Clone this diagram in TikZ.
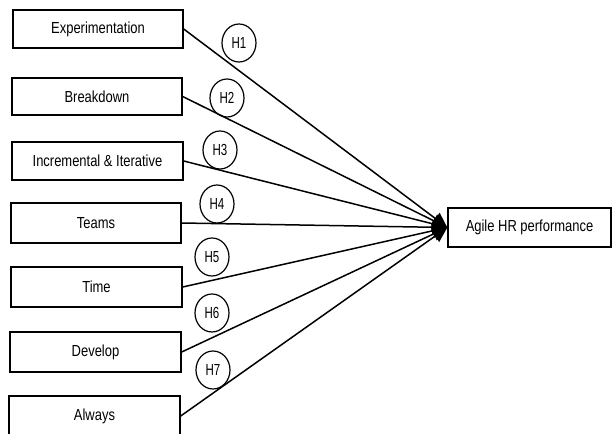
\documentclass[tikz,border=0pt]{standalone}
\usepackage{graphicx}
\usepackage{fontspec}
\setmainfont{Liberation Sans}
\usetikzlibrary{arrows.meta,shapes.geometric}
\newcommand{\nrw}[1]{\scalebox{0.81}[1]{#1}}
\newcommand{\hnrw}[1]{\scalebox{0.72}[1]{#1}}
\begin{document}
\begin{tikzpicture}[x=1pt,y=-1pt,
  varbox/.style={draw,line width=1.4pt,minimum width=170pt,minimum height=38pt,inner sep=0pt,font=\fontsize{16}{18}\selectfont},
  hyp/.style={draw,ellipse,line width=1.2pt,minimum width=34pt,minimum height=38pt,inner sep=0pt,font=\fontsize{16}{18}\selectfont},
  link/.style={line width=1.5pt,-{Triangle[length=15pt,width=14pt]}}]
\clip (0,0) rectangle (612,433);
\useasboundingbox (0,0) rectangle (612,433);
\node[varbox] (exp) at (98,29) {\nrw{Experimentation}};
\node[varbox,minimum height=37pt] (brk) at (97,96.5) {\nrw{Breakdown}};
\node[varbox,minimum width=171pt] (inc) at (97.5,161) {\nrw{Incremental \& Iterative}};
\node[varbox,minimum height=40pt] (tea) at (96,223) {\nrw{Teams}};
\node[varbox,minimum width=171pt,minimum height=40pt] (tim) at (96.5,287) {\nrw{Time}};
\node[varbox,minimum width=171pt,minimum height=40pt] (dev) at (95.5,352) {\nrw{Develop}};
\node[varbox,minimum width=171pt,minimum height=40pt] (alw) at (94.5,416) {\nrw{Always}};
\node[varbox,minimum width=163pt,minimum height=39pt] (ahr) at (529.5,227.5) {\nrw{Agile HR performance}};
\node[hyp] (h1) at (239,43) {\hnrw{H1}};
\node[hyp] (h2) at (227,98) {\hnrw{H2}};
\node[hyp] (h3) at (220,150) {\hnrw{H3}};
\node[hyp] (h4) at (217,204) {\hnrw{H4}};
\node[hyp] (h5) at (212,257) {\hnrw{H5}};
\node[hyp] (h6) at (212,313) {\hnrw{H6}};
\node[hyp] (h7) at (213,370) {\hnrw{H7}};
\foreach \s in {exp,brk,inc,tea,tim,dev,alw}
  \draw[link] (\s.east) -- (ahr.west);
\end{tikzpicture}
\end{document}
